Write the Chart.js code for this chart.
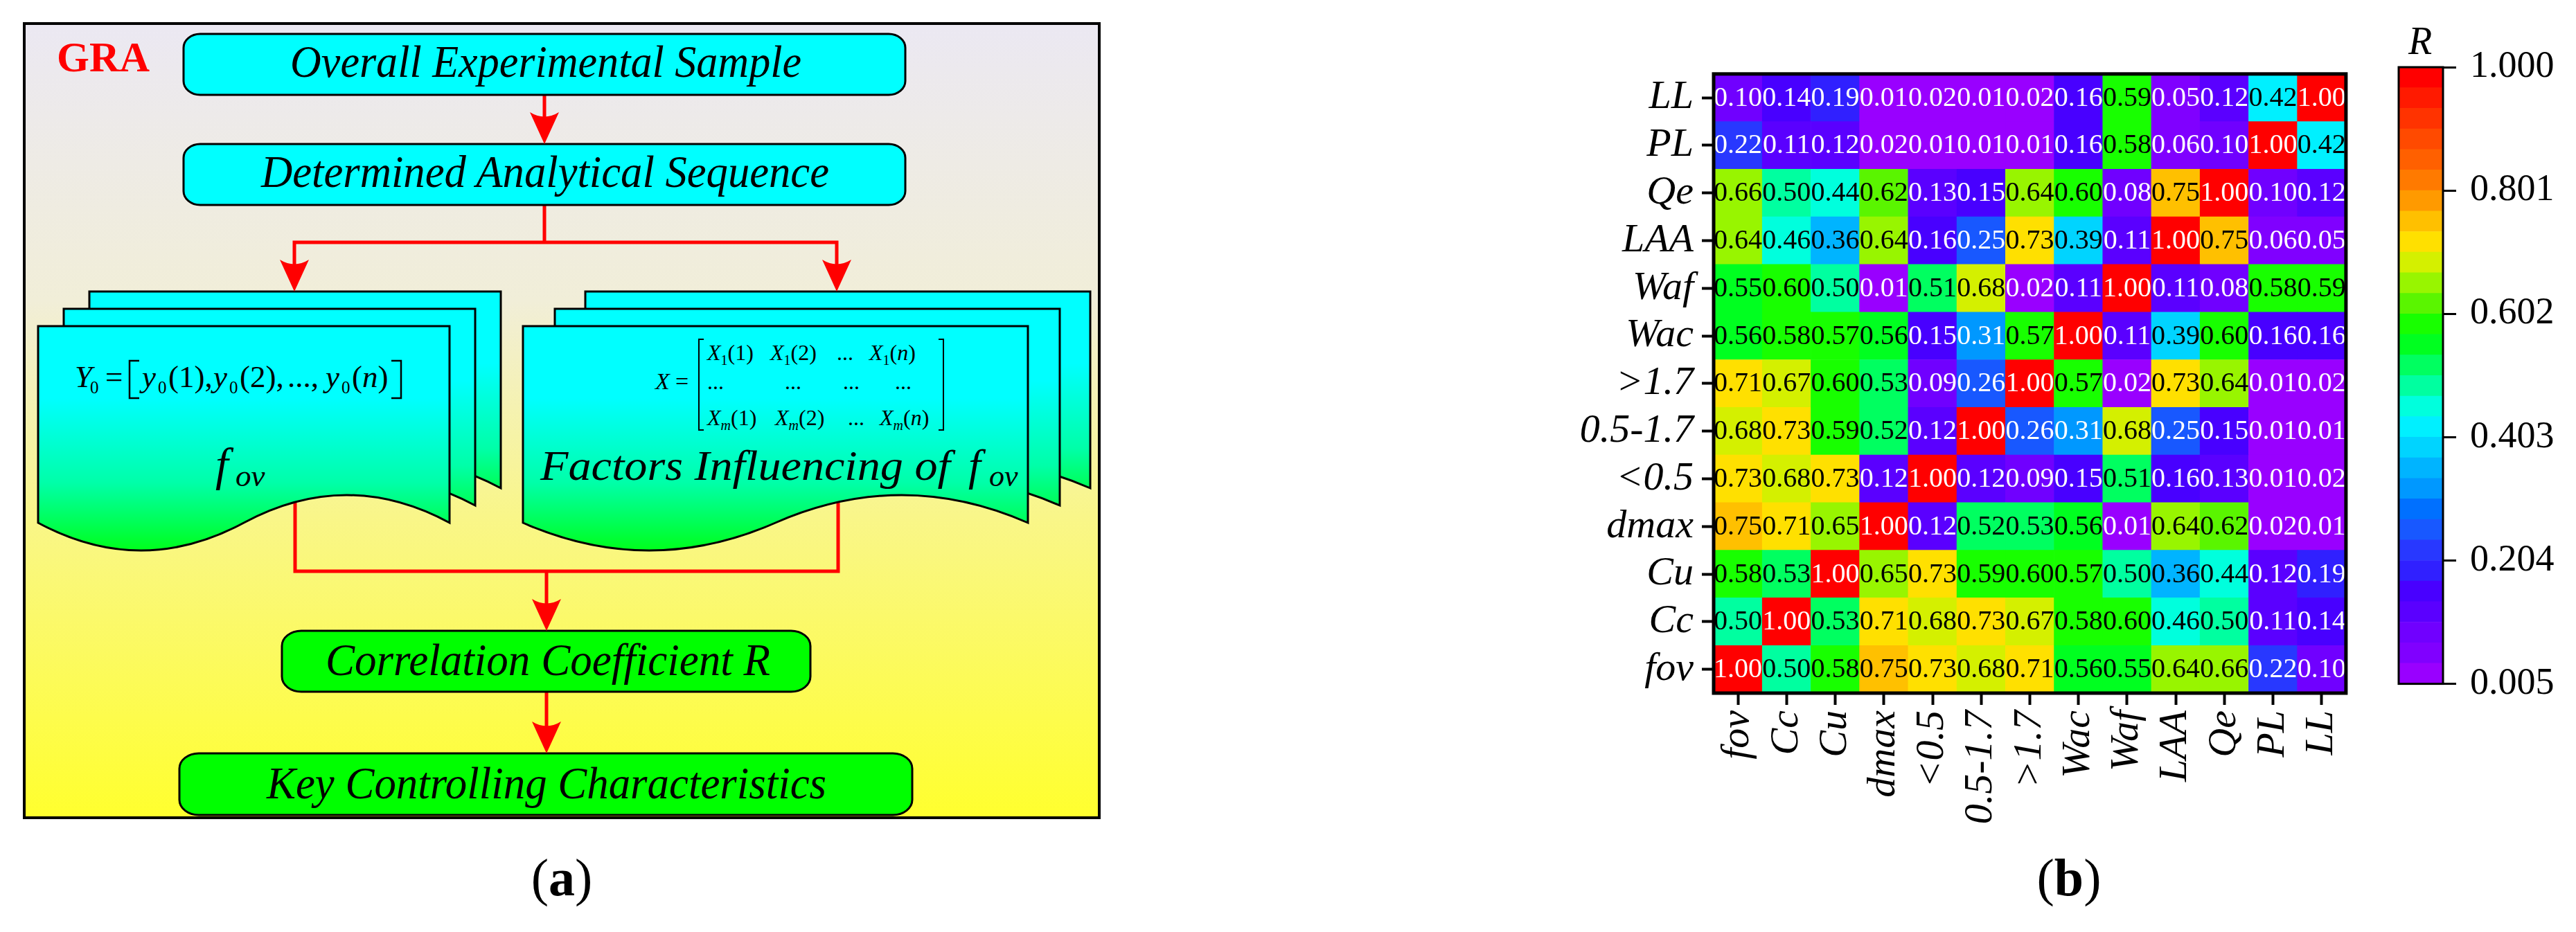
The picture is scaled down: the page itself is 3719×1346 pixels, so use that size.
<!DOCTYPE html>
<html>
<head>
<meta charset="utf-8">
<script src="https://cdn.jsdelivr.net/npm/chart.js@4.4.1/dist/chart.umd.min.js"></script>
<style>
  html, body { margin: 0; padding: 0; background: #fff; }
  body { width: 3719px; height: 1346px; position: relative; overflow: hidden; }
  #flow { position: absolute; left: 0; top: 0; }
  #heat { position: absolute; left: 2230px; top: 60px; }
  #cbar { position: absolute; left: 3440px; top: 40px; }
</style>
</head>
<body>
<svg id="flow" width="3719" height="1346" xmlns="http://www.w3.org/2000/svg"></svg>
<canvas id="heat" width="1200" height="1180"></canvas>
<canvas id="cbar" width="279" height="1000"></canvas>
<script>
// ---------------- DATA ----------------
const variables = ['fov', 'Cc', 'Cu', 'dmax', '<0.5', '0.5-1.7', '>1.7', 'Wac', 'Waf', 'LAA', 'Qe', 'PL', 'LL'];

// correlation rows (row variable vs. columns in the order of `variables`)
const rowFov  = [1.00, 0.50, 0.58, 0.75, 0.73, 0.68, 0.71, 0.56, 0.55, 0.64, 0.66, 0.22, 0.10];
const rowCc   = [0.50, 1.00, 0.53, 0.71, 0.68, 0.73, 0.67, 0.58, 0.60, 0.46, 0.50, 0.11, 0.14];
const rowCu   = [0.58, 0.53, 1.00, 0.65, 0.73, 0.59, 0.60, 0.57, 0.50, 0.36, 0.44, 0.12, 0.19];
const rowDmax = [0.75, 0.71, 0.65, 1.00, 0.12, 0.52, 0.53, 0.56, 0.01, 0.64, 0.62, 0.02, 0.01];
const rowLt05 = [0.73, 0.68, 0.73, 0.12, 1.00, 0.12, 0.09, 0.15, 0.51, 0.16, 0.13, 0.01, 0.02];
const rowMid  = [0.68, 0.73, 0.59, 0.52, 0.12, 1.00, 0.26, 0.31, 0.68, 0.25, 0.15, 0.01, 0.01];
const rowGt17 = [0.71, 0.67, 0.60, 0.53, 0.09, 0.26, 1.00, 0.57, 0.02, 0.73, 0.64, 0.01, 0.02];
const rowWac  = [0.56, 0.58, 0.57, 0.56, 0.15, 0.31, 0.57, 1.00, 0.11, 0.39, 0.60, 0.16, 0.16];
const rowWaf  = [0.55, 0.60, 0.50, 0.01, 0.51, 0.68, 0.02, 0.11, 1.00, 0.11, 0.08, 0.58, 0.59];
const rowLAA  = [0.64, 0.46, 0.36, 0.64, 0.16, 0.25, 0.73, 0.39, 0.11, 1.00, 0.75, 0.06, 0.05];
const rowQe   = [0.66, 0.50, 0.44, 0.62, 0.13, 0.15, 0.64, 0.60, 0.08, 0.75, 1.00, 0.10, 0.12];
const rowPL   = [0.22, 0.11, 0.12, 0.02, 0.01, 0.01, 0.01, 0.16, 0.58, 0.06, 0.10, 1.00, 0.42];
const rowLL   = [0.10, 0.14, 0.19, 0.01, 0.02, 0.01, 0.02, 0.16, 0.59, 0.05, 0.12, 0.42, 1.00];
const matrixRows = [rowFov, rowCc, rowCu, rowDmax, rowLt05, rowMid, rowGt17, rowWac, rowWaf, rowLAA, rowQe, rowPL, rowLL];

const colorTicks = [0.005, 0.204, 0.403, 0.602, 0.801, 1.000];
const rMin = 0.005, rMax = 1.000;
// discrete colour levels, bottom (low R) to top (high R)
const palette = ['#9900ff', '#8000ff', '#7000ff', '#5a00ff', '#4800ff', '#3020ff', '#2838ff', '#1858ff',
                 '#0070ff', '#0098ff', '#00b4ff', '#00d4ff', '#00f0ff', '#00ffdd', '#00ffa0', '#00ff60',
                 '#00ff20', '#18ff00', '#5af500', '#98f500', '#d4f000', '#ffe000', '#ffc000', '#ff9a00',
                 '#ff7a00', '#ff6000', '#ff4a00', '#ff3300', '#ff1a00', '#ff0000'];

// ---------------- HELPERS ----------------
const FONT = "'Liberation Serif', 'Times New Roman', serif";
const levelStep = (rMax - rMin) / palette.length;
function colorFor(v) {
  let k = Math.floor((v - rMin) / levelStep + 1e-9);
  k = Math.max(0, Math.min(palette.length - 1, k));
  return palette[k];
}
function textColorFor(v) { return (v < 0.33 || v >= 0.995) ? '#ffffff' : '#000000'; }

// ---------------- FLOWCHART (a) ----------------
(function () {
  const svg = document.getElementById('flow');
  const red = 'stroke="#ff0000" stroke-width="5" fill="none" stroke-linejoin="miter"';
  const head = (x, tip) => `<path d="M${x},${tip} L${x - 21},${tip - 46} Q${x},${tip - 33} ${x + 21},${tip - 46} Z" fill="#ff0000"/>`;
  const docPath = (x0, y0, w, h, a) => {
    const yb = y0 + h, c = a * 4 / 3;
    return `M${x0},${y0} H${x0 + w} V${yb} C${x0 + 5 * w / 6},${yb - c} ${x0 + 2 * w / 3},${yb - c} ${x0 + w / 2},${yb} ` +
           `C${x0 + w / 3},${yb + c} ${x0 + w / 6},${yb + c} ${x0},${yb} Z`;
  };
  let s = '';
  s += `<defs>
    <linearGradient id="bg" x1="0" y1="0" x2="0" y2="1">
      <stop offset="0" stop-color="#ebe8f2"/>
      <stop offset="0.35" stop-color="#f1eed8"/>
      <stop offset="0.62" stop-color="#f9f689"/>
      <stop offset="1" stop-color="#ffff2e"/>
    </linearGradient>
    <linearGradient id="doc" x1="0" y1="0" x2="0" y2="1">
      <stop offset="0" stop-color="#00ffff"/>
      <stop offset="0.32" stop-color="#00ffff"/>
      <stop offset="0.7" stop-color="#00ffa8"/>
      <stop offset="1" stop-color="#00ff1c"/>
    </linearGradient>
  </defs>`;
  s += `<rect x="35" y="34" width="1552" height="1147" fill="url(#bg)" stroke="#000" stroke-width="4"/>`;
  // connectors (behind documents)
  s += `<path d="M426,640 V825 H1210 V640" ${red}/>`;
  s += `<path d="M789,825 V878" ${red}/>`;
  s += `<path d="M786,137 V180" ${red}/>`;
  s += `<path d="M786,296 V350" ${red}/>`;
  s += `<path d="M425,392 V350 H1208 V392" ${red}/>`;
  s += `<path d="M789,999 V1058" ${red}/>`;
  // documents
  [[129, 421], [92, 446], [55, 471]].forEach(p => {
    s += `<path d="${docPath(p[0], p[1], 594, 284, 40)}" fill="url(#doc)" stroke="#000" stroke-width="3"/>`;
  });
  [[845, 421], [801, 446], [755, 471]].forEach(p => {
    s += `<path d="${docPath(p[0], p[1], 729, 284, 40)}" fill="url(#doc)" stroke="#000" stroke-width="3"/>`;
  });
  // process boxes
  s += `<rect x="265" y="49" width="1042" height="88" rx="24" ry="20" fill="#00ffff" stroke="#000" stroke-width="3"/>`;
  s += `<rect x="265" y="208" width="1042" height="88" rx="24" ry="20" fill="#00ffff" stroke="#000" stroke-width="3"/>`;
  s += `<rect x="407" y="911" width="763" height="88" rx="28" ry="22" fill="#00ff00" stroke="#000" stroke-width="3"/>`;
  s += `<rect x="259" y="1088" width="1058" height="89" rx="28" ry="22" fill="#00ff00" stroke="#000" stroke-width="3"/>`;
  // arrow heads
  s += head(786, 208) + head(425, 421) + head(1208, 421) + head(789, 911) + head(789, 1088);
  // texts
  const T = `font-family="${FONT}" fill="#000"`;
  s += `<text x="82" y="103" font-family="${FONT}" font-weight="bold" font-size="62" fill="#ff0000" textLength="134" lengthAdjust="spacingAndGlyphs">GRA</text>`;
  s += `<text x="788" y="111" ${T} font-size="66" font-style="italic" text-anchor="middle" textLength="738" lengthAdjust="spacingAndGlyphs">Overall Experimental Sample</text>`;
  s += `<text x="787" y="270" ${T} font-size="66" font-style="italic" text-anchor="middle" textLength="820" lengthAdjust="spacingAndGlyphs">Determined Analytical Sequence</text>`;
  s += `<text x="791" y="975" ${T} font-size="66" font-style="italic" text-anchor="middle" textLength="642" lengthAdjust="spacingAndGlyphs">Correlation Coefficient R</text>`;
  s += `<text x="789" y="1153" ${T} font-size="66" font-style="italic" text-anchor="middle" textLength="808" lengthAdjust="spacingAndGlyphs">Key Controlling Characteristics</text>`;
  // Y0 formula
  const fy = 559;
  s += `<text x="108" y="${fy}" ${T} font-size="45" font-style="italic">Y</text>`;
  s += `<text x="130" y="${fy + 9}" ${T} font-size="25">0</text>`;
  s += `<text x="152" y="${fy}" ${T} font-size="45">=</text>`;
  s += `<path d="M201,521 H187 V575 H201 M565,521 H579 V575 H565" stroke="#000" stroke-width="2.5" fill="none"/>`;
  [[205, '(1),'], [308, '(2),']].forEach(q => {
    s += `<text x="${q[0]}" y="${fy}" ${T} font-size="45" font-style="italic">y</text>`;
    s += `<text x="${q[0] + 23}" y="${fy + 9}" ${T} font-size="25">0</text>`;
    s += `<text x="${q[0] + 38}" y="${fy}" ${T} font-size="45">${q[1]}</text>`;
  });
  s += `<text x="415" y="${fy}" ${T} font-size="45">...,</text>`;
  s += `<text x="470" y="${fy}" ${T} font-size="45" font-style="italic">y</text>`;
  s += `<text x="493" y="${fy + 9}" ${T} font-size="25">0</text>`;
  s += `<text x="508" y="${fy}" ${T} font-size="45">(<tspan font-style="italic">n</tspan>)</text>`;
  // f_ov (left)
  s += `<text x="311" y="694" ${T} font-size="67" font-style="italic">f</text>`;
  s += `<text x="340" y="702" ${T} font-size="45" font-style="italic">ov</text>`;
  // matrix X (right)
  s += `<text x="946" y="562" ${T} font-size="34" font-style="italic">X</text>`;
  s += `<text x="975" y="562" ${T} font-size="34">=</text>`;
  s += `<path d="M1016,490 H1009 V621 H1016 M1355,490 H1362 V621 H1355" stroke="#000" stroke-width="2" fill="none"/>`;
  const entry = (x, y, sub, arg) => {
    const subIt = sub === 'm' ? ' font-style="italic"' : '';
    const argTxt = arg === 'n' ? '<tspan font-style="italic">n</tspan>' : arg;
    return `<text x="${x}" y="${y}" ${T} font-size="32"><tspan font-style="italic">X</tspan><tspan font-size="20" dy="7"${subIt}>${sub}</tspan><tspan dy="-7">(${argTxt})</tspan></text>`;
  };
  s += entry(1021, 520, '1', '1') + entry(1112, 520, '1', '2') + entry(1255, 520, '1', 'n');
  s += `<text x="1208" y="520" ${T} font-size="32">...</text>`;
  [1021, 1133, 1217, 1292].forEach(x => { s += `<text x="${x}" y="562" ${T} font-size="32">...</text>`; });
  s += entry(1021, 614, 'm', '1') + entry(1119, 614, 'm', '2') + entry(1270, 614, 'm', 'n');
  s += `<text x="1224" y="614" ${T} font-size="32">...</text>`;
  // Factors Influencing of f_ov
  s += `<text x="780" y="693" ${T} font-size="62" font-style="italic" textLength="592" lengthAdjust="spacingAndGlyphs">Factors Influencing  of</text>`;
  s += `<text x="1398" y="693" ${T} font-size="64" font-style="italic">f</text>`;
  s += `<text x="1428" y="702" ${T} font-size="44" font-style="italic">ov</text>`;
  // panel labels
  s += `<text x="811" y="1293" ${T} font-size="76" text-anchor="middle">(<tspan font-weight="bold">a</tspan>)</text>`;
  s += `<text x="2987" y="1293" ${T} font-size="76" text-anchor="middle">(<tspan font-weight="bold">b</tspan>)</text>`;
  // colour bar title
  s += `<text x="3494" y="78" ${T} font-size="56" font-style="italic" text-anchor="middle">R</text>`;
  svg.innerHTML = s;
})();

// ---------------- HEATMAP (b) ----------------
const cellLabels = {
  id: 'cellLabels',
  afterDatasetsDraw(chart) {
    const ctx = chart.ctx;
    ctx.save();
    ctx.font = '40px ' + FONT;
    ctx.textAlign = 'center';
    ctx.textBaseline = 'middle';
    chart.data.datasets.forEach((ds, k) => {
      const meta = chart.getDatasetMeta(k);
      meta.data.forEach((el, j) => {
        const v = ds.rValues[j];
        const c = el.getCenterPoint();
        ctx.fillStyle = textColorFor(v);
        ctx.fillText(v.toFixed(2), c.x, c.y + 1);
      });
    });
    ctx.restore();
  }
};
const frame = {
  id: 'frame',
  afterDraw(chart, args, opts) {
    const a = chart.chartArea, ctx = chart.ctx;
    ctx.save();
    ctx.strokeStyle = '#000';
    ctx.lineWidth = opts.width || 4;
    ctx.strokeRect(a.left, a.top, a.right - a.left, a.bottom - a.top);
    ctx.restore();
  }
};

const axisFont = { family: FONT, style: 'italic', size: 58 };
new Chart(document.getElementById('heat'), {
  type: 'bar',
  data: {
    labels: variables,
    datasets: matrixRows.map((row, k) => ({
      label: variables[k],
      data: row.map(() => 1),
      rValues: row,
      backgroundColor: row.map(colorFor),
      borderWidth: 0,
      barPercentage: 1,
      categoryPercentage: 1
    }))
  },
  options: {
    responsive: false,
    animation: false,
    devicePixelRatio: 1,
    layout: { padding: { top: 39, right: 16, left: 0, bottom: 0 } },
    plugins: { legend: { display: false }, tooltip: { enabled: false }, frame: { width: 5 } },
    scales: {
      x: {
        stacked: true,
        grid: { offset: false, drawOnChartArea: false, drawTicks: true, tickLength: 17, tickWidth: 4, color: '#000' },
        border: { display: false },
        ticks: { autoSkip: false, minRotation: 90, maxRotation: 90, padding: 8, color: '#000', font: axisFont },
        afterFit: s => { s.height = 239; }
      },
      y: {
        stacked: true,
        min: 0,
        max: variables.length,
        grid: { drawOnChartArea: false, drawTicks: true, tickLength: 17, tickWidth: 4, color: '#000' },
        border: { display: false },
        afterBuildTicks: s => { s.ticks = variables.map((_, i) => ({ value: i + 0.5 })); },
        ticks: { autoSkip: false, padding: 12, color: '#000', font: axisFont,
                 callback: v => variables[Math.floor(v)] },
        afterFit: s => { s.width = 244; }
      }
    }
  },
  plugins: [cellLabels, frame]
});

// ---------------- COLOUR BAR ----------------
new Chart(document.getElementById('cbar'), {
  type: 'bar',
  data: {
    labels: ['R'],
    datasets: palette.map((col, k) => ({
      data: [[rMin + k * levelStep, rMin + (k + 1) * levelStep]],
      backgroundColor: col,
      borderWidth: 0,
      barPercentage: 1,
      categoryPercentage: 1,
      grouped: false
    }))
  },
  options: {
    responsive: false,
    animation: false,
    devicePixelRatio: 1,
    layout: { padding: { top: 57, bottom: 40, left: 23, right: 0 } },
    plugins: { legend: { display: false }, tooltip: { enabled: false }, frame: { width: 3 } },
    scales: {
      x: { display: false },
      y: {
        position: 'right',
        min: rMin,
        max: rMax,
        afterBuildTicks: s => { s.ticks = colorTicks.map(v => ({ value: v })); },
        ticks: { autoSkip: false, padding: 20, color: '#000', font: { family: FONT, size: 54 },
                 callback: v => Number(v).toFixed(3) },
        grid: { drawOnChartArea: false, drawTicks: true, tickLength: 19, tickWidth: 3, color: '#000' },
        border: { display: false },
        afterFit: s => { s.width = 192; }
      }
    }
  },
  plugins: [frame]
});
</script>
</body>
</html>
